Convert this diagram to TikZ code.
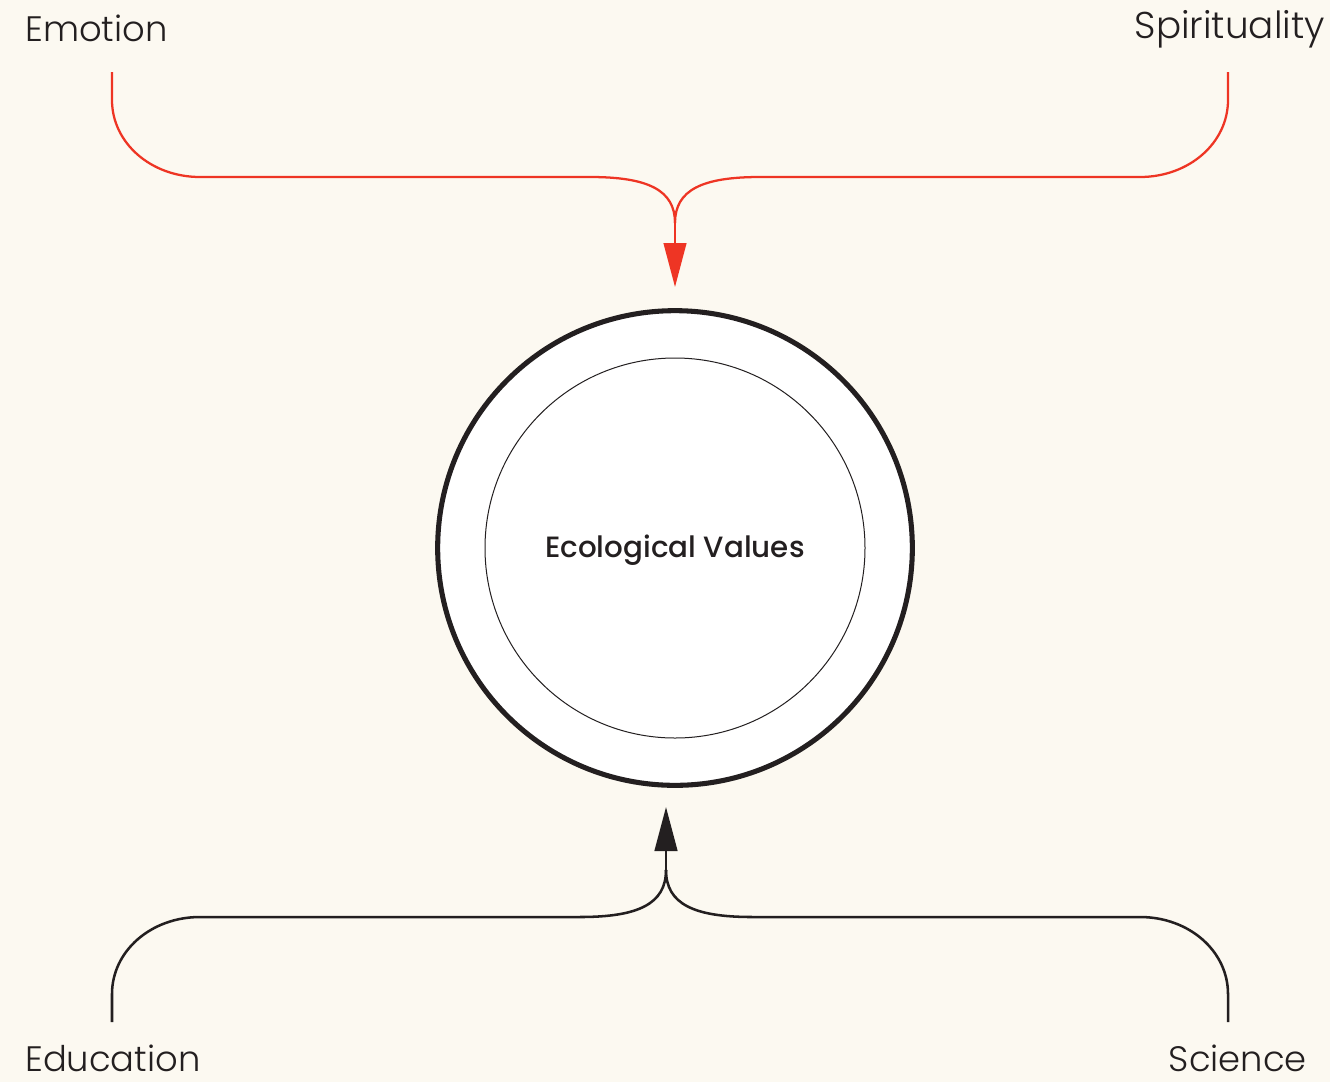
\documentclass[tikz,border=0pt]{standalone}
\usepackage{fontspec}
\usetikzlibrary{arrows.meta}
\newfontfamily\labelfont{Poppins}[UprightFont={* Light},BoldFont={* Medium}]
\definecolor{paper}{HTML}{FCF9F1}
\definecolor{inkred}{HTML}{EE3524}
\definecolor{ink}{HTML}{231F20}
\begin{document}
\begin{tikzpicture}[x=0.75pt,y=-0.75pt,
  source/.style={font=\labelfont\fontsize{26.5}{30}\selectfont, text=ink, inner sep=0pt},
  feed/.style={line width=1.7pt, inkred},
  ground/.style={line width=1.9pt, ink},
  head/.style={-{Triangle[width=17pt,length=33pt]}}]
  % page
  \fill[paper] (0,0) rectangle (1330,1082);
  \useasboundingbox (0,0) rectangle (1330,1082);

  % central value ring
  \node[circle, draw=ink, line width=3.8pt, fill=white, inner sep=0pt,
        minimum size=356pt] (values) at (675,548) {};
  \node[circle, draw=ink, line width=0.75pt, fill=white, inner sep=0pt, minimum size=285pt] (core) at (675,548) {};
  \node[font=\labelfont\bfseries\fontsize{22}{26}\selectfont, text=ink] (title) at (675,550) {Ecological Values};

  % source labels
  \node[source, anchor=base west] (emotion) at (25,41) {Emotion};
  \node[source, anchor=base east, font=\labelfont\fontsize{28}{32}\selectfont] (spirit) at (1325,38) {Spirituality};
  \node[source, anchor=base west] (education) at (25,1071) {Education};
  \node[source, anchor=base east] (science) at (1307,1071) {Science};

  % connector ends
  \coordinate (emo-s) at (112,72);
  \coordinate (spi-s) at (1228,72);
  \coordinate (edu-s) at (112,1022);
  \coordinate (sci-s) at (1228,1022);
  \coordinate (top-join) at (675,223);
  \coordinate (top-tip) at (675,287);
  \coordinate (bot-join) at (666,870);
  \coordinate (bot-tip) at (666,807);

  % upper (red) feeders
  \draw[feed] (emo-s) -- (112,100) .. controls (112,143) and (151,177) .. (200,177)
    -- (590,177) .. controls (648,177) and (675,190) .. (top-join);
  \draw[feed] (spi-s) -- (1228,100) .. controls (1228,143) and (1189,177) .. (1140,177)
    -- (760,177) .. controls (702,177) and (675,190) .. (top-join);
  \draw[feed, head] (top-join) -- (top-tip);

  % lower (black) feeders
  \draw[ground] (edu-s) -- (112,994) .. controls (112,951) and (151,917) .. (200,917)
    -- (580,917) .. controls (638,917) and (666,904) .. (bot-join);
  \draw[ground] (sci-s) -- (1228,994) .. controls (1228,951) and (1189,917) .. (1140,917)
    -- (752,917) .. controls (694,917) and (666,904) .. (bot-join);
  \draw[ground, head] (bot-join) -- (bot-tip);
\end{tikzpicture}
\end{document}
